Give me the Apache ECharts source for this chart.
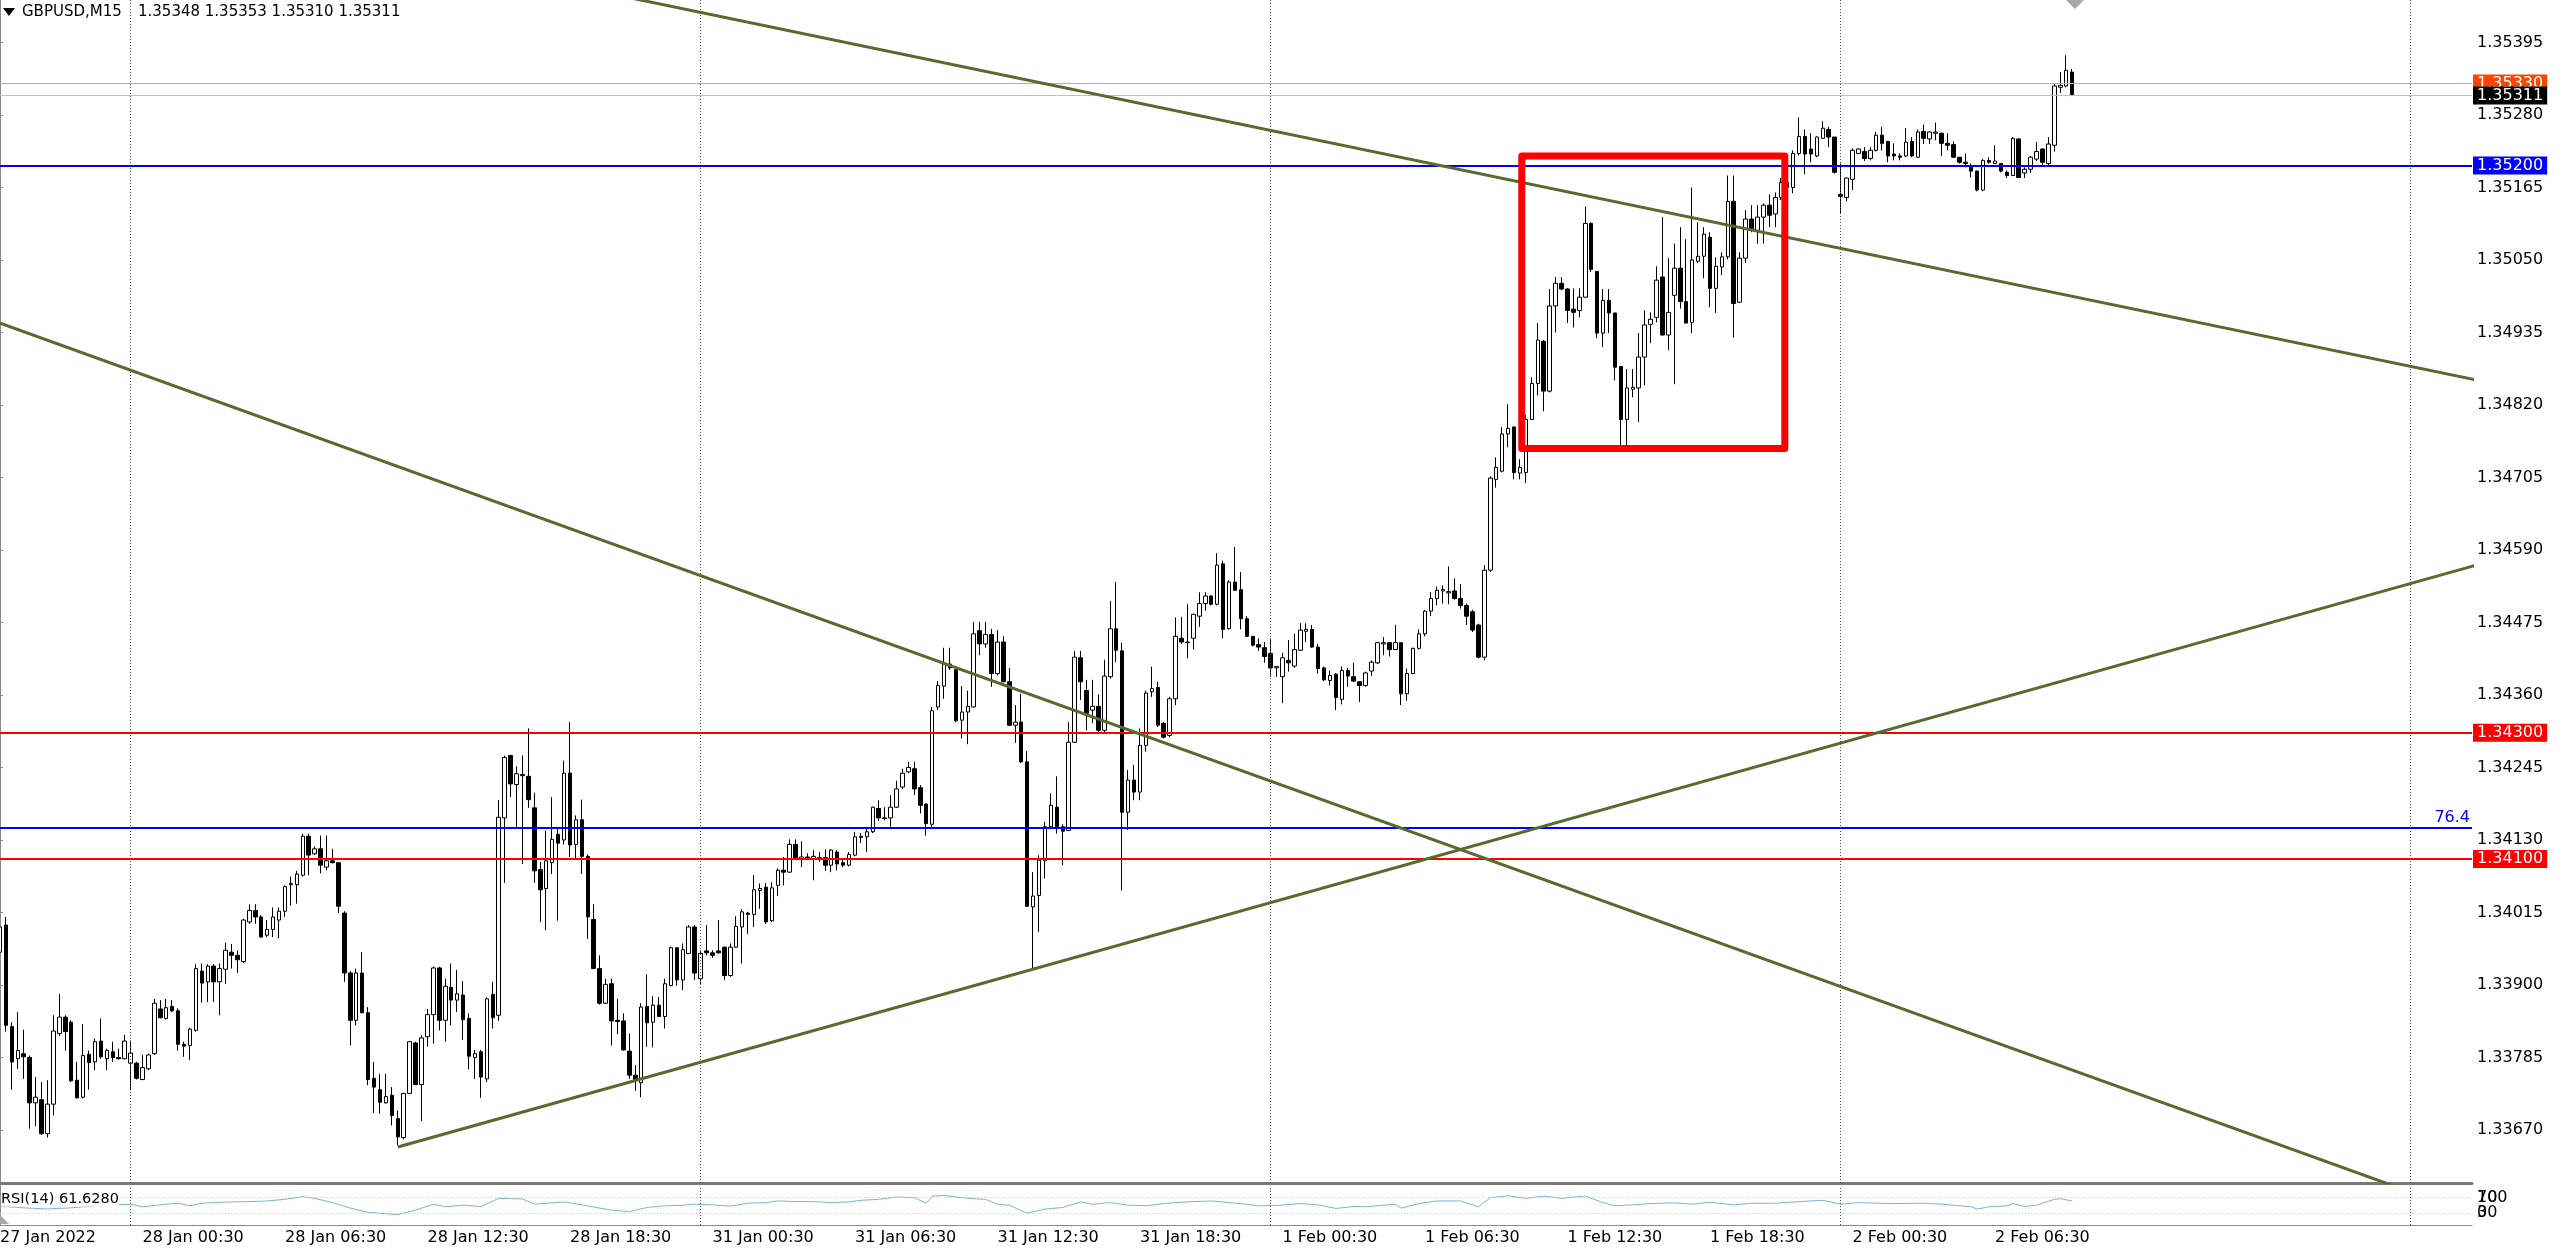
<!DOCTYPE html>
<html><head><meta charset="utf-8">
<script src="https://cdn.jsdelivr.net/npm/echarts@6/dist/echarts.min.js"></script>
<style>html,body{margin:0;padding:0;background:#fff;overflow:hidden}#c{width:2560px;height:1251px}</style>
</head><body><div id="c"></div>
<script>
const symbolName = 'GBPUSD,M15';
// 15-minute bars, bar 0 = 27 Jan 2022 18:30. Each item: [open, high, low, close]
const jan27 = [[1.33952,1.34003,1.33950,1.33992],[1.33995,1.34008,1.33826,1.33836],[1.33834,1.33841,1.33734,1.33778],[1.33783,1.33857,1.33767,1.33796],[1.33791,1.33829,1.33751,1.33786],[1.33785,1.33788,1.33672,1.33713],[1.33713,1.33754,1.33676,1.33722],[1.33718,1.33746,1.33662,1.33664],[1.33664,1.33749,1.33658,1.33711],[1.33711,1.33852,1.33693,1.33827],[1.33823,1.33886,1.33819,1.33849],[1.33849,1.33852,1.33796,1.33826],[1.33841,1.33844,1.33746,1.33748],[1.33749,1.33778,1.33720,1.33721],[1.33722,1.33838,1.33720,1.33788],[1.33790,1.33796,1.33734,1.33777],[1.33778,1.33815,1.33765,1.33810],[1.33811,1.33847,1.33783,1.33786],[1.33783,1.33799,1.33765,1.33796],[1.33794,1.33810,1.33778,1.33785],[1.33785,1.33799,1.33782,1.33783],[1.33783,1.33821,1.33782,1.33811]];
const jan28 = [[1.33776,1.33812,1.33733,1.33792],[1.33776,1.33778,1.33750,1.33752],[1.33750,1.33789,1.33749,1.33769],[1.33767,1.33791,1.33765,1.33789],[1.33791,1.33878,1.33789,1.33871],[1.33862,1.33876,1.33847,1.33848],[1.33847,1.33878,1.33845,1.33864],[1.33866,1.33876,1.33857,1.33859],[1.33859,1.33863,1.33796,1.33806],[1.33806,1.33810,1.33786,1.33803],[1.33804,1.33832,1.33781,1.33830],[1.33828,1.33933,1.33826,1.33926],[1.33922,1.33934,1.33872,1.33903],[1.33905,1.33933,1.33873,1.33930],[1.33930,1.33933,1.33873,1.33905],[1.33905,1.33934,1.33852,1.33926],[1.33925,1.33967,1.33902,1.33955],[1.33952,1.33965,1.33926,1.33947],[1.33947,1.33955,1.33919,1.33940],[1.33937,1.34005,1.33935,1.34003],[1.34000,1.34028,1.33997,1.34018],[1.34018,1.34028,1.33997,1.34008],[1.34008,1.34011,1.33975,1.33976],[1.33979,1.34003,1.33976,1.33988],[1.33988,1.34023,1.33976,1.34008],[1.34003,1.34023,1.33974,1.34017],[1.34017,1.34058,1.34008,1.34056],[1.34059,1.34072,1.34026,1.34061],[1.34059,1.34081,1.34029,1.34076],[1.34074,1.34140,1.34072,1.34136],[1.34136,1.34140,1.34074,1.34106],[1.34108,1.34120,1.34106,1.34116],[1.34116,1.34137,1.34077,1.34090],[1.34087,1.34137,1.34082,1.34097],[1.34097,1.34116,1.34093,1.34094],[1.34094,1.34095,1.34014,1.34025],[1.34014,1.34017,1.33905,1.33919],[1.33919,1.33922,1.33804,1.33844],[1.33844,1.33926,1.33836,1.33919],[1.33919,1.33952,1.33855,1.33856],[1.33856,1.33865,1.33741,1.33750],[1.33752,1.33778,1.33697,1.33738],[1.33734,1.33759,1.33696,1.33714],[1.33713,1.33759,1.33712,1.33723],[1.33725,1.33738,1.33677,1.33693],[1.33688,1.33701,1.33646,1.33659],[1.33658,1.33729,1.33655,1.33728],[1.33728,1.33811,1.33727,1.33810],[1.33808,1.33810,1.33741,1.33742],[1.33742,1.33820,1.33684,1.33816],[1.33818,1.33862,1.33802,1.33853],[1.33853,1.33929,1.33807,1.33927],[1.33927,1.33929,1.33828,1.33844],[1.33844,1.33910,1.33810,1.33898],[1.33896,1.33934,1.33836,1.33876],[1.33876,1.33924,1.33857,1.33886],[1.33884,1.33906,1.33813,1.33845],[1.33847,1.33855,1.33766,1.33787],[1.33785,1.33797,1.33751,1.33791],[1.33794,1.33797,1.33721,1.33754],[1.33751,1.33880,1.33746,1.33878],[1.33885,1.33905,1.33831,1.33848],[1.33852,1.34193,1.33843,1.34166],[1.34165,1.34264,1.34062,1.34261],[1.34264,1.34265,1.34198,1.34219],[1.34218,1.34247,1.34148,1.34235],[1.34234,1.34264,1.34092,1.34232],[1.34231,1.34307,1.34181,1.34194],[1.34181,1.34205,1.34062,1.34081],[1.34083,1.34095,1.34000,1.34051],[1.34053,1.34145,1.33987,1.34097],[1.34094,1.34198,1.34076,1.34131],[1.34139,1.34148,1.34002,1.34125],[1.34130,1.34256,1.34123,1.34236],[1.34236,1.34317,1.34103,1.34122],[1.34123,1.34169,1.34099,1.34162],[1.34162,1.34194,1.34076,1.34104],[1.34104,1.34107,1.33973,1.34008],[1.34004,1.34028,1.33925,1.33926],[1.33926,1.33947,1.33869,1.33871],[1.33871,1.33910,1.33870,1.33901],[1.33902,1.33910,1.33804,1.33843],[1.33844,1.33878,1.33822,1.33842],[1.33843,1.33855,1.33796,1.33797],[1.33795,1.33823,1.33751,1.33757],[1.33757,1.33773,1.33732,1.33750],[1.33745,1.33871,1.33722,1.33865],[1.33866,1.33917,1.33802,1.33840],[1.33841,1.33882,1.33801,1.33868],[1.33868,1.33881,1.33849,1.33850],[1.33850,1.33910,1.33831,1.33902],[1.33899,1.33961,1.33898,1.33959],[1.33959,1.33960,1.33899,1.33908],[1.33908,1.33966,1.33892,1.33956],[1.33950,1.33995,1.33949,1.33992],[1.33992,1.33995,1.33908,1.33919]];
const jan31 = [[1.33910,1.33955,1.33900,1.33950],[1.33954,1.33995,1.33947,1.33951],[1.33951,1.33955,1.33943,1.33947],[1.33954,1.34003,1.33950,1.33951],[1.33960,1.33961,1.33908,1.33915],[1.33915,1.33966,1.33913,1.33960],[1.33960,1.34009,1.33959,1.33993],[1.33992,1.34020,1.33934,1.34016],[1.34014,1.34016,1.33981,1.34012],[1.34012,1.34074,1.33992,1.34051],[1.34050,1.34061,1.34021,1.34053],[1.34055,1.34062,1.33997,1.34000],[1.34002,1.34063,1.34000,1.34054],[1.34058,1.34085,1.34041,1.34082],[1.34082,1.34103,1.34058,1.34079],[1.34079,1.34131,1.34078,1.34123],[1.34123,1.34131,1.34099,1.34100],[1.34100,1.34128,1.34087,1.34103],[1.34103,1.34109,1.34099,1.34100],[1.34100,1.34114,1.34066,1.34104],[1.34102,1.34111,1.34095,1.34100],[1.34102,1.34115,1.34081,1.34090],[1.34090,1.34115,1.34079,1.34114],[1.34111,1.34114,1.34082,1.34092],[1.34094,1.34100,1.34087,1.34090],[1.34090,1.34111,1.34088,1.34107],[1.34106,1.34143,1.34104,1.34135],[1.34134,1.34141,1.34125,1.34136],[1.34135,1.34148,1.34111,1.34143],[1.34143,1.34183,1.34141,1.34182],[1.34180,1.34193,1.34160,1.34165],[1.34165,1.34182,1.34161,1.34164],[1.34165,1.34201,1.34151,1.34182],[1.34182,1.34224,1.34181,1.34211],[1.34214,1.34243,1.34211,1.34236],[1.34238,1.34254,1.34236,1.34245],[1.34243,1.34254,1.34201,1.34211],[1.34213,1.34217,1.34172,1.34185],[1.34187,1.34188,1.34137,1.34156],[1.34155,1.34341,1.34151,1.34335],[1.34341,1.34382,1.34336,1.34375],[1.34374,1.34435,1.34354,1.34409],[1.34409,1.34435,1.34400,1.34403],[1.34400,1.34402,1.34317,1.34319],[1.34320,1.34374,1.34291,1.34333],[1.34333,1.34367,1.34282,1.34342],[1.34341,1.34476,1.34340,1.34457],[1.34462,1.34476,1.34423,1.34441],[1.34441,1.34476,1.34435,1.34456],[1.34456,1.34465,1.34373,1.34394],[1.34394,1.34463,1.34391,1.34444],[1.34444,1.34453,1.34380,1.34381],[1.34381,1.34403,1.34311,1.34312],[1.34312,1.34344,1.34284,1.34317],[1.34317,1.34362,1.34252,1.34254],[1.34254,1.34271,1.34024,1.34025],[1.34024,1.34079,1.33926,1.34041],[1.34042,1.34106,1.33984,1.34098],[1.34097,1.34159,1.34069,1.34151],[1.34151,1.34204,1.34148,1.34185],[1.34182,1.34231,1.34140,1.34151],[1.34151,1.34155,1.34090,1.34144],[1.34145,1.34317,1.34144,1.34285],[1.34285,1.34430,1.34284,1.34420],[1.34419,1.34430,1.34352,1.34381],[1.34367,1.34384,1.34304,1.34331],[1.34336,1.34384,1.34315,1.34342],[1.34342,1.34361,1.34301,1.34304],[1.34304,1.34416,1.34301,1.34390],[1.34389,1.34509,1.34386,1.34465],[1.34465,1.34539,1.34412,1.34431],[1.34430,1.34443,1.34050,1.34174],[1.34174,1.34241,1.34146,1.34225],[1.34225,1.34249,1.34193,1.34206],[1.34206,1.34307,1.34193,1.34280],[1.34280,1.34367,1.34270,1.34363],[1.34365,1.34405,1.34357,1.34370],[1.34372,1.34381,1.34309,1.34312],[1.34315,1.34317,1.34291,1.34293],[1.34296,1.34357,1.34293,1.34354],[1.34354,1.34483,1.34344,1.34453],[1.34450,1.34484,1.34441,1.34444],[1.34444,1.34504,1.34418,1.34443],[1.34450,1.34489,1.34432,1.34488],[1.34485,1.34523,1.34468,1.34505],[1.34505,1.34523,1.34494,1.34517],[1.34517,1.34518,1.34502,1.34504],[1.34504,1.34585,1.34502,1.34566],[1.34568,1.34573,1.34450,1.34464],[1.34465,1.34542,1.34464,1.34539],[1.34539,1.34595,1.34526,1.34526],[1.34527,1.34555,1.34464,1.34481],[1.34481,1.34485,1.34452,1.34453],[1.34453,1.34453,1.34437,1.34439],[1.34440,1.34450,1.34430,1.34436],[1.34435,1.34444,1.34411,1.34421]];
const feb1 = [[1.34426,1.34450,1.34389,1.34403],[1.34403,1.34406,1.34389,1.34405],[1.34389,1.34427,1.34347,1.34419],[1.34415,1.34447,1.34397,1.34411],[1.34406,1.34457,1.34403,1.34432],[1.34431,1.34474,1.34430,1.34463],[1.34461,1.34474,1.34444,1.34464],[1.34464,1.34471,1.34435,1.34436],[1.34436,1.34441,1.34394,1.34402],[1.34403,1.34405,1.34382,1.34384],[1.34383,1.34399,1.34375,1.34391],[1.34393,1.34395,1.34336,1.34356],[1.34353,1.34405,1.34345,1.34399],[1.34399,1.34403,1.34373,1.34390],[1.34389,1.34411,1.34381,1.34382],[1.34381,1.34382,1.34349,1.34375],[1.34375,1.34397,1.34373,1.34395],[1.34398,1.34415,1.34390,1.34412],[1.34411,1.34444,1.34409,1.34443],[1.34441,1.34452,1.34423,1.34443],[1.34443,1.34444,1.34421,1.34432],[1.34432,1.34471,1.34432,1.34443],[1.34443,1.34443,1.34344,1.34362],[1.34362,1.34402,1.34351,1.34394],[1.34394,1.34435,1.34393,1.34434],[1.34434,1.34464,1.34432,1.34457],[1.34457,1.34495,1.34453,1.34493],[1.34493,1.34523,1.34485,1.34513],[1.34513,1.34532,1.34502,1.34526],[1.34525,1.34534,1.34505,1.34527],[1.34522,1.34564,1.34504,1.34524],[1.34525,1.34545,1.34511,1.34513],[1.34513,1.34536,1.34497,1.34502],[1.34502,1.34505,1.34471,1.34485],[1.34492,1.34495,1.34460,1.34463],[1.34471,1.34473,1.34418,1.34420],[1.34420,1.34566,1.34415,1.34558],[1.34558,1.34707,1.34555,1.34704],[1.34702,1.34737,1.34689,1.34721],[1.34715,1.34785,1.34713,1.34774],[1.34774,1.34821,1.34753,1.34783],[1.34785,1.34786,1.34702,1.34713],[1.34712,1.34734,1.34702,1.34721],[1.34713,1.34804,1.34696,1.34797],[1.34797,1.34864,1.34796,1.34854],[1.34854,1.34950,1.34835,1.34923],[1.34921,1.34923,1.34810,1.34842],[1.34842,1.35004,1.34840,1.34977],[1.34977,1.35023,1.34935,1.35013],[1.35013,1.35023,1.35002,1.35004],[1.35004,1.35005,1.34950,1.34970],[1.34972,1.35005,1.34943,1.34967],[1.34970,1.35005,1.34959,1.34991],[1.34991,1.35135,1.34990,1.35108],[1.35108,1.35110,1.35031,1.35035],[1.35032,1.35032,1.34926,1.34934],[1.34934,1.35004,1.34912,1.34986],[1.34986,1.35004,1.34934,1.34966],[1.34966,1.34966,1.34859,1.34880],[1.34881,1.34881,1.34756,1.34797],[1.34797,1.34877,1.34756,1.34847],[1.34845,1.34877,1.34832,1.34848],[1.34847,1.34934,1.34793,1.34896],[1.34896,1.34970,1.34851,1.34947],[1.34948,1.34967,1.34918,1.34956],[1.34959,1.35040,1.34951,1.35018],[1.35023,1.35118,1.34930,1.34931],[1.34931,1.35053,1.34907,1.34967],[1.34994,1.35076,1.34853,1.35037],[1.35037,1.35102,1.34973,1.34984],[1.34984,1.35083,1.34949,1.34950],[1.34951,1.35165,1.34934,1.35050],[1.35048,1.35110,1.35045,1.35056],[1.35056,1.35102,1.35021,1.35091],[1.35086,1.35094,1.34975,1.35005],[1.35005,1.35054,1.34966,1.35040],[1.35039,1.35062,1.35026,1.35055],[1.35055,1.35184,1.35051,1.35143],[1.35143,1.35184,1.34927,1.34981],[1.34983,1.35062,1.34982,1.35053],[1.35053,1.35129,1.35045,1.35115],[1.35115,1.35137,1.35094,1.35097],[1.35097,1.35137,1.35076,1.35118],[1.35118,1.35140,1.35076,1.35137],[1.35137,1.35154,1.35102,1.35121],[1.35123,1.35157,1.35102,1.35149],[1.35149,1.35180,1.35145,1.35173],[1.35173,1.35184,1.35153,1.35165],[1.35165,1.35224,1.35156,1.35219],[1.35219,1.35276,1.35216,1.35246],[1.35246,1.35257,1.35186,1.35218],[1.35226,1.35251,1.35205,1.35218],[1.35215,1.35246,1.35213,1.35245],[1.35243,1.35270,1.35242,1.35259],[1.35257,1.35261,1.35229,1.35245],[1.35245,1.35245,1.35187,1.35189]];
const feb2 = [[1.35154,1.35203,1.35124,1.35151],[1.35149,1.35181,1.35143,1.35180],[1.35178,1.35227,1.35161,1.35224],[1.35219,1.35227,1.35218,1.35226],[1.35222,1.35229,1.35207,1.35211],[1.35211,1.35229,1.35208,1.35224],[1.35224,1.35253,1.35222,1.35248],[1.35248,1.35261,1.35224,1.35235],[1.35238,1.35238,1.35205,1.35215],[1.35218,1.35235,1.35208,1.35215],[1.35215,1.35219,1.35208,1.35213],[1.35215,1.35259,1.35213,1.35237],[1.35238,1.35245,1.35213,1.35215],[1.35213,1.35257,1.35212,1.35253],[1.35254,1.35265,1.35234,1.35243],[1.35242,1.35254,1.35234,1.35253],[1.35251,1.35268,1.35240,1.35253],[1.35251,1.35252,1.35215,1.35235],[1.35235,1.35251,1.35224,1.35232],[1.35233,1.35238,1.35212,1.35213],[1.35213,1.35213,1.35203,1.35205],[1.35205,1.35219,1.35197,1.35203],[1.35200,1.35203,1.35181,1.35191],[1.35191,1.35192,1.35159,1.35161],[1.35161,1.35210,1.35159,1.35208],[1.35208,1.35213,1.35203,1.35205],[1.35203,1.35232,1.35203,1.35207],[1.35203,1.35204,1.35189,1.35191],[1.35189,1.35192,1.35180,1.35184],[1.35184,1.35245,1.35183,1.35243],[1.35242,1.35243,1.35180,1.35181],[1.35188,1.35197,1.35180,1.35194],[1.35194,1.35215,1.35188,1.35213],[1.35210,1.35237,1.35207,1.35222],[1.35226,1.35227,1.35200,1.35205],[1.35203,1.35245,1.35200,1.35234],[1.35232,1.35330,1.35222,1.35326],[1.35324,1.35348,1.35315,1.35327],[1.35326,1.35375,1.35324,1.35351],[1.35348,1.35353,1.35310,1.35311]];

// time axis labels (bar index -> text)
const xLabelBars  = [0,24,48,72,96,120,144,168,192,216,240,264,288,312,336];
const xLabelTexts = ['27 Jan 2022','28 Jan 00:30','28 Jan 06:30','28 Jan 12:30','28 Jan 18:30','31 Jan 00:30','31 Jan 06:30','31 Jan 12:30','31 Jan 18:30','1 Feb 00:30','1 Feb 06:30','1 Feb 12:30','1 Feb 18:30','2 Feb 00:30','2 Feb 06:30'];
const daySeparatorBars = [22,118,214,310,406];
// price axis tick labels
const priceTicks = [1.33670,1.33785,1.33900,1.34015,1.34130,1.34245,1.34360,1.34475,1.34590,1.34705,1.34820,1.34935,1.35050,1.35165,1.35280,1.35395];
// drawn objects
const redLevels = [1.34300, 1.34100];
const blueLevel = 1.35200;
const fibLevel = 1.34149, fibText = '76.4';
const orangeLevel = 1.35330;
const trendA = [[104, 1.35470], [400, 1.34893]];
const trendB = [[0, 1.34950], [400, 1.33592]];
const trendC = [[67, 1.33643], [400, 1.34521]];
const boxBars = [256.3, 300.6], boxPrices = [1.35215, 1.34751];
// RSI(14) readings
const rsiBars = [0,4,8,12,16,20,22,24,28,30,32,34,36,39,42,45,48,51,53,56,59,62,64,67,70,73,75,78,81,84,86,88,90,92,95,98,101,103,106,109,112,115,117,120,123,126,129,131,134,137,140,143,145,148,151,154,156,157,159,162,164,166,168,170,173,176,179,182,184,187,190,193,196,198,201,204,207,210,212,215,219,222,225,228,230,235,236,239,242,246,249,251,252,254,257,260,263,265,267,270,272,275,278,282,285,288,292,295,299,303,307,310,313,318,324,327,332,333,335,338,339,341,343,346,347,349];
const rsiValues = [48,44,41,44,49,52,53.3,46.7,53.3,55.8,49.2,55.8,57.5,59.2,60.0,61.7,65.8,72.5,68.3,57.5,43.3,32.5,30.0,26.7,38.3,53.3,46.7,50.8,47.5,68.3,67.5,66.7,53.3,55.8,59.2,51.7,43.3,38.3,34.2,45.0,49.2,50.8,53.3,51.7,48.3,55.8,57.5,61.7,60.0,60.0,57.5,59.2,63.3,65.8,71.7,70.0,55.8,74.2,75.8,70.0,67.5,65.8,53.3,50.8,30.0,40.8,45.0,59.2,53.3,57.5,50.8,49.2,55.0,57.5,60.0,61.7,57.5,53.3,49.2,50.0,55.0,51.7,42.5,47.5,46.7,53.3,43.3,55.0,61.7,61.7,46.7,70.0,71.7,75.0,68.3,74.2,68.3,71.7,74.2,57.5,49.2,51.7,55.0,56.7,53.3,58.3,51.7,55.8,55.8,60.0,63.3,53.3,57.5,55.0,55.8,53.3,46.7,40.8,46.7,49.2,55.0,47.5,50.8,65.8,67.5,61.6];
const rsiLabel = 'RSI(14) 61.6280';
const rsiLevels = [70, 30];
const rsiScaleLabels = [['100', '70'], ['0', '30']];

const bars = [].concat(jan27, jan28, jan31, feb1, feb2);
const candleData = bars.map((b, i) => [i, b[0], b[3], b[2], b[1]]);
const last = bars[bars.length - 1];
const bid = last[3];

const FONT = 'DejaVu Sans';
const X_MIN = 0, X_MAX = 416.34;
const Y_MAX = 1.354624, Y_MIN = 1.335859;

function extend(p, q, xa, xb) {
  const s = (q[1] - p[1]) / (q[0] - p[0]);
  return [[xa, p[1] + s * (xa - p[0])], [xb, p[1] + s * (xb - p[0])]];
}
const lblMap = {};
xLabelBars.forEach((b, k) => { lblMap[b] = xLabelTexts[k]; });

function tag(value, bg, lineColor, lineWidth) {
  return {
    yAxis: value,
    lineStyle: { color: lineColor, width: lineWidth, type: 'solid' },
    label: { show: true, position: 'end', distance: 1, formatter: value.toFixed(5), color: '#fff', backgroundColor: bg,
      padding: [1, 4, 1, 4], fontSize: 16, lineHeight: 16, fontFamily: FONT }
  };
}
function priceMarks(items) {
  return { silent: true, precision: 5, symbol: ['none', 'none'], data: items };
}
const sepStyle = { color: '#4a4a4a', type: [1, 2], width: 1 };

const rsiMarks = [];
daySeparatorBars.forEach(b => rsiMarks.push({ xAxis: b, lineStyle: sepStyle, label: { show: false } }));
rsiLevels.forEach((lv, k) => {
  rsiScaleLabels[k].forEach(txt => rsiMarks.push({
    yAxis: lv, lineStyle: { color: '#c8c8c8', type: [1, 2], width: 1 },
    label: { show: true, position: 'end', distance: 5, formatter: txt, color: '#000', fontSize: 16, fontFamily: FONT }
  }));
});

const chart = echarts.init(document.getElementById('c'), null, { renderer: 'canvas' });
chart.setOption({
  animation: false,
  backgroundColor: '#ffffff',
  grid: [
    { left: 0, top: 0, width: 2472, height: 1183, outerBoundsMode: 'none' },
    { left: 0, top: 1186, width: 2472, height: 39, outerBoundsMode: 'none' }
  ],
  xAxis: [
    { type: 'value', gridIndex: 0, min: X_MIN, max: X_MAX, position: 'bottom',
      axisLine: { show: true, lineStyle: { color: '#7a7a7a', width: 3 } },
      axisTick: { show: false }, axisLabel: { show: false }, splitLine: { show: false } },
    { type: 'value', gridIndex: 1, min: X_MIN, max: X_MAX, position: 'bottom',
      axisLine: { show: true, lineStyle: { color: '#8a8a8a', width: 1 } },
      axisTick: { show: false }, splitLine: { show: false },
      axisLabel: { show: true, customValues: xLabelBars, formatter: v => lblMap[Math.round(v)] || '',
        align: 'left', margin: 5, color: '#000', fontSize: 16, fontFamily: FONT } }
  ],
  yAxis: [
    { type: 'value', gridIndex: 0, min: Y_MIN, max: Y_MAX, position: 'right',
      axisLine: { show: true, lineStyle: { color: '#8a8a8a', width: 2 } },
      axisTick: { show: true, customValues: priceTicks, length: 3, lineStyle: { color: '#8a8a8a' } },
      splitLine: { show: false },
      axisLabel: { show: true, customValues: priceTicks, formatter: v => v.toFixed(5), margin: 5,
        color: '#000', fontSize: 16, fontFamily: FONT } },
    { type: 'value', gridIndex: 1, min: 0, max: 100, position: 'right',
      axisLine: { show: true, lineStyle: { color: '#8a8a8a', width: 2 } },
      axisTick: { show: false }, splitLine: { show: false }, axisLabel: { show: false } }
  ],
  series: [
    { type: 'line', xAxisIndex: 0, yAxisIndex: 0, data: [], z: 1, silent: true,
      markLine: { silent: true, symbol: ['none', 'none'], label: { show: false }, lineStyle: sepStyle,
        data: daySeparatorBars.map(b => ({ xAxis: b })) } },
    { type: 'candlestick', xAxisIndex: 0, yAxisIndex: 0, data: candleData, barWidth: 4, z: 3, silent: true,
      itemStyle: { color: '#ffffff', color0: '#000000', borderColor: '#000000', borderColor0: '#000000',
        borderColorDoji: '#000000', borderWidth: 1 } },
    { type: 'line', xAxisIndex: 0, yAxisIndex: 0, data: [], z: 4, silent: true, clip: false,
      markLine: priceMarks([
        tag(redLevels[0], '#ff0000', '#ff0000', 2),
        tag(redLevels[1], '#ff0000', '#ff0000', 2),
        tag(blueLevel, '#0000ff', '#0000ff', 2),
        { yAxis: fibLevel, lineStyle: { color: '#0000ff', width: 2, type: 'solid' },
          label: { show: true, position: 'insideEndTop', distance: 2, formatter: fibText, color: '#0000ff', fontSize: 16, fontFamily: FONT } }
      ]) },
    { type: 'line', xAxisIndex: 0, yAxisIndex: 0, data: extend(trendA[0], trendA[1], -10, 430), z: 5, silent: true,
      symbol: 'none', lineStyle: { color: '#556b2f', width: 3 } },
    { type: 'line', xAxisIndex: 0, yAxisIndex: 0, data: extend(trendB[0], trendB[1], -10, 430), z: 5, silent: true,
      symbol: 'none', lineStyle: { color: '#556b2f', width: 3 } },
    { type: 'line', xAxisIndex: 0, yAxisIndex: 0, data: [trendC[0], extend(trendC[0], trendC[1], trendC[0][0], 430)[1]], z: 5, silent: true,
      symbol: 'none', lineStyle: { color: '#556b2f', width: 3 } },
    { type: 'line', xAxisIndex: 0, yAxisIndex: 0, z: 6, silent: true, symbol: 'none',
      data: [[boxBars[0], boxPrices[0]], [boxBars[1], boxPrices[0]], [boxBars[1], boxPrices[1]], [boxBars[0], boxPrices[1]], [boxBars[0], boxPrices[0]]],
      lineStyle: { color: '#ff0000', width: 7, join: 'round', cap: 'round' } },
    { type: 'line', xAxisIndex: 0, yAxisIndex: 0, data: [], z: 7, silent: true, clip: false,
      markLine: priceMarks([tag(orangeLevel, '#ff4500', '#d9a27c', 1)]) },
    { type: 'line', xAxisIndex: 0, yAxisIndex: 0, data: [], z: 8, silent: true, clip: false,
      markLine: priceMarks([tag(bid, '#000000', '#c0c0c0', 1)]) },
    // RSI panel
    { type: 'line', xAxisIndex: 1, yAxisIndex: 1, data: [], z: 1, silent: true, clip: false,
      markLine: { silent: true, precision: 2, symbol: ['none', 'none'], data: rsiMarks } },
    { type: 'line', xAxisIndex: 1, yAxisIndex: 1, z: 3, silent: true, symbol: 'none',
      data: rsiBars.map((b, k) => [b, rsiValues[k]]), lineStyle: { color: '#7ab4d4', width: 1 } }
  ],
  graphic: [
    { type: 'polygon', shape: { points: [[3, 8], [15, 8], [9, 16]] }, style: { fill: '#000' }, z: 100 },
    { type: 'text', x: 22, y: 12, z: 100, style: { text: symbolName, font: '15px "DejaVu Sans"', fill: '#000', verticalAlign: 'middle' } },
    { type: 'text', x: 138, y: 12, z: 100, style: { text: last.map(v => v.toFixed(5)).join(' '), font: '15px "DejaVu Sans"', fill: '#000', verticalAlign: 'middle' } },
    { type: 'polygon', shape: { points: [[2066, 0], [2084, 0], [2075, 9]] }, style: { fill: '#a8a8a8' }, z: 100 },
    { type: 'text', x: 1, y: 1199, z: 100, style: { text: rsiLabel, font: '14.5px "DejaVu Sans"', fill: '#000', verticalAlign: 'middle', backgroundColor: '#fff' } },
    { type: 'polygon', shape: { points: [[0, 1224], [9, 1224], [0, 1215]] }, style: { fill: '#a8a8a8' }, z: 100 }
  ]
});
</script>
</body></html>
